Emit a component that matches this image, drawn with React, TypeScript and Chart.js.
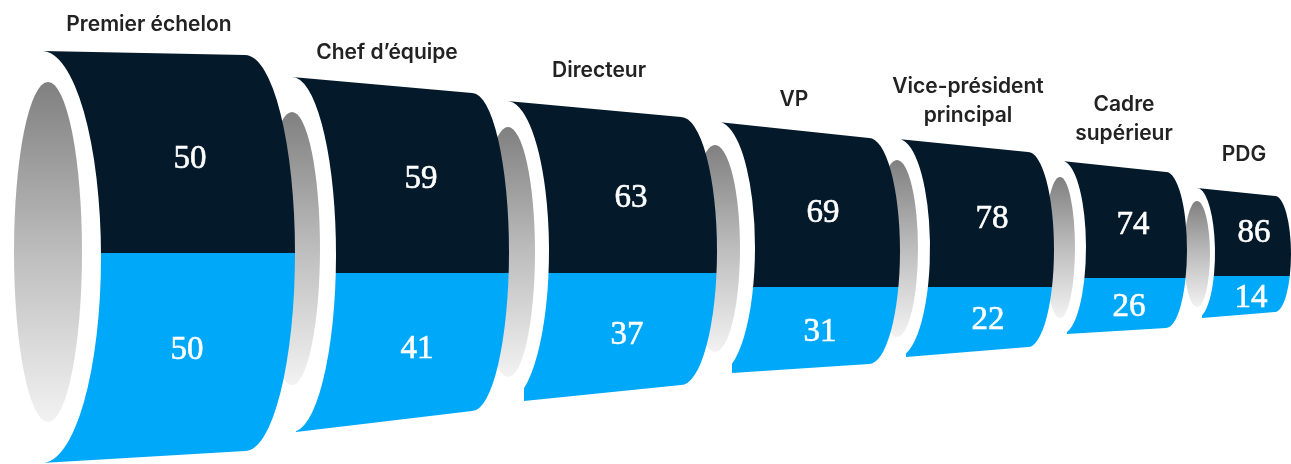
import React, { useEffect, useRef } from "react";
import { Chart, registerables } from "chart.js";

Chart.register(...registerables);

// Readings from the picture
const categories = [
  ["Premier échelon"],
  ["Chef d’équipe"],
  ["Directeur"],
  ["VP"],
  ["Vice-président", "principal"],
  ["Cadre", "supérieur"],
  ["PDG"],
];
const darkShare = [50, 59, 63, 69, 78, 74, 86];
const blueShare = [50, 41, 37, 31, 22, 26, 14];

// Section extents on the two hidden axes
const frontStart = [42, 292, 507, 718, 898, 1062, 1197];
const frontFoot = [42, 296, 524, 732, 906, 1067, 1202];
const rearStart = [245, 472, 681, 869, 1028, 1166, 1275];
const frontTop = [51, 77, 101, 122, 139, 161, 188];
const frontBottom = [463, 432, 401, 373, 357, 334, 318];
const rearTop = [55, 93, 117, 138, 152, 172, 196];
const rearBottom = [451, 411, 385, 364, 347, 328, 312];
const splitLevel = [253, 273, 273, 287, 287, 278, 276];
const frontBulge = [59, 44, 42, 37, 32, 24, 18];
const rearBulge = [50, 37, 36, 31, 26, 21, 16];
const holeCentre = [48, 292, 508, 715, 897, 1060, 1197];
const holeHalfWidth = [34, 28, 27, 25, 21, 15, 13];
const holeTop = [82, 112, 127, 145, 160, 177, 201];
const holeBottom = [422, 385, 377, 352, 337, 318, 307];

// Annotation anchors on the same axes
const categoryX = [149, 387, 599, 794, 968, 1124, 1244];
const categoryY = [25, 53, 71, 100, 87, 105, 155];
const darkValueX = [190, 421, 631, 823, 992, 1133, 1254];
const darkValueY = [159, 179, 198, 213, 219, 225, 233];
const blueValueX = [187, 417, 627, 820, 988, 1129, 1251];
const blueValueY = [350, 349, 335, 332, 320, 307, 298];

const DARK = "#041a2b";
const BLUE = "#00a8fa";
const LABEL_FONT = '600 21px "Inter", sans-serif';
const VALUE_FONT = '33px "Liberation Serif", serif';

const funnelPlugin = {
  id: "funnel",
  afterDatasetsDraw(chart: any) {
    const { ctx, scales } = chart;
    const X = (v: number) => scales.x.getPixelForValue(v);
    const Y = (v: number) => scales.y.getPixelForValue(v);
    const darkBars = chart.getDatasetMeta(0).data;
    const blueBars = chart.getDatasetMeta(1).data;

    for (let i = categories.length - 1; i >= 0; i--) {
      // hole
      const hT = Y(holeTop[i]);
      const hB = Y(holeBottom[i]);
      const grad = ctx.createLinearGradient(0, hT, 0, hB);
      grad.addColorStop(0, "#808080");
      grad.addColorStop(0.5, "#bdbdbd");
      grad.addColorStop(1, "#f2f2f2");
      ctx.fillStyle = grad;
      ctx.beginPath();
      ctx.ellipse(X(holeCentre[i]), (hT + hB) / 2, X(holeHalfWidth[i]) - X(0), (hB - hT) / 2, 0, 0, Math.PI * 2);
      ctx.fill();

      // body
      const top = Math.min(darkBars[i].y, darkBars[i].base);
      const split = Math.max(darkBars[i].y, darkBars[i].base);
      const bottom = Math.max(blueBars[i].y, blueBars[i].base);
      const xF = X(frontStart[i]);
      const xFoot = X(frontFoot[i]);
      const xR = X(rearStart[i]);
      const rT = Y(rearTop[i]);
      const rB = Y(rearBottom[i]);
      const bF = X(frontBulge[i]) - X(0);
      const bR = X(rearBulge[i]) - X(0);
      const footAngle = Math.acos(Math.min(1, (xFoot - xF) / bF));

      ctx.save();
      ctx.beginPath();
      ctx.moveTo(xF, top);
      ctx.lineTo(xR, rT);
      ctx.ellipse(xR, (rT + rB) / 2, bR, (rB - rT) / 2, 0, -Math.PI / 2, Math.PI / 2, false);
      ctx.lineTo(xFoot, bottom);
      ctx.ellipse(xF, (top + bottom) / 2, bF, (bottom - top) / 2, 0, footAngle, -Math.PI / 2, true);
      ctx.closePath();
      ctx.clip();
      const left = xF - 5;
      const width = xR + bR - left + 5;
      ctx.fillStyle = DARK;
      ctx.fillRect(left, top - 5, width, split - top + 5);
      ctx.fillStyle = BLUE;
      ctx.fillRect(left, split, width, bottom - split + 5);
      ctx.restore();
    }

    // value and category text
    ctx.textAlign = "center";
    ctx.textBaseline = "middle";
    ctx.fillStyle = "#ffffff";
    ctx.strokeStyle = "#ffffff";
    ctx.lineWidth = 0.6;
    ctx.font = VALUE_FONT;
    categories.forEach((_, i) => {
      const dx = X(darkValueX[i]);
      const dy = Y(darkValueY[i]);
      const bx = X(blueValueX[i]);
      const by = Y(blueValueY[i]);
      ctx.fillText(String(darkShare[i]), dx, dy);
      ctx.strokeText(String(darkShare[i]), dx, dy);
      ctx.fillText(String(blueShare[i]), bx, by);
      ctx.strokeText(String(blueShare[i]), bx, by);
    });
    ctx.fillStyle = "#222222";
    ctx.font = LABEL_FONT;
    categories.forEach((lines, i) => {
      lines.forEach((line, j) => {
        ctx.fillText(line, X(categoryX[i]), Y(categoryY[i] + j * 29));
      });
    });
  },
};

export default function App() {
  const ref = useRef<HTMLCanvasElement>(null);
  useEffect(() => {
    document.body.style.margin = "0";
    document.body.style.background = "#ffffff";
    const centres = frontStart.map((s, i) => (s + rearStart[i]) / 2);
    const chart = new Chart(ref.current as HTMLCanvasElement, {
      type: "bar",
      data: {
        datasets: [
          {
            label: "Part foncée",
            data: categories.map((_, i) => ({ x: centres[i], y: [frontTop[i], splitLevel[i]] })),
            backgroundColor: "transparent",
            grouped: false,
          },
          {
            label: "Part bleue",
            data: categories.map((_, i) => ({ x: centres[i], y: [splitLevel[i], frontBottom[i]] })),
            backgroundColor: "transparent",
            grouped: false,
          },
        ] as any,
      },
      options: {
        responsive: false,
        animation: false,
        layout: { padding: 0 },
        plugins: { legend: { display: false }, tooltip: { enabled: false } },
        scales: {
          x: { type: "linear", min: 0, max: 1291, display: false, offset: false },
          y: { type: "linear", min: 0, max: 464, reverse: true, display: false },
        },
      },
      plugins: [funnelPlugin],
    } as any);
    return () => chart.destroy();
  }, []);
  return (
    <div style={{ width: 1291, height: 464, overflow: "hidden", background: "#fff" }}>
      <canvas ref={ref} width={1291} height={464} style={{ display: "block" }} />
    </div>
  );
}
